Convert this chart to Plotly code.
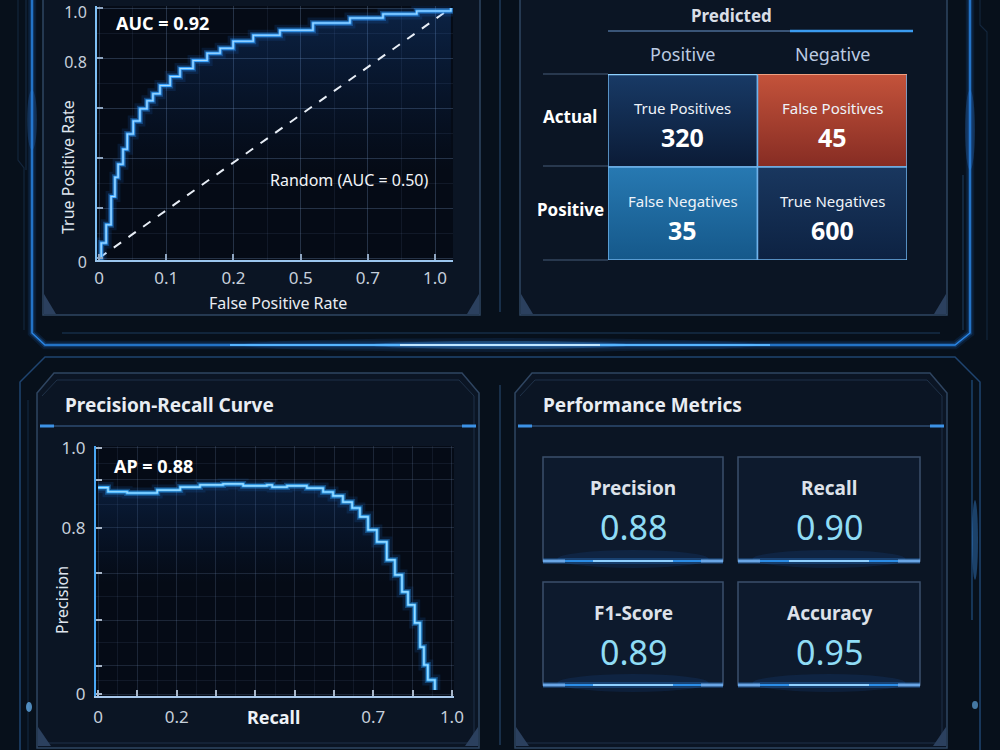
import plotly.graph_objects as go

W, H = 1000, 750
FONT = "Noto Sans"

# ---------------- data ----------------
roc_fpr = [0, 0.006, 0.02, 0.034, 0.045, 0.054, 0.068, 0.08, 0.097, 0.116, 0.136, 0.153, 0.173,
           0.202, 0.23, 0.267, 0.307, 0.344, 0.381, 0.438, 0.514, 0.608, 0.713, 0.807, 0.903, 1.0]
roc_tpr = [0, 0.06, 0.133, 0.246, 0.323, 0.375, 0.435, 0.496, 0.548, 0.597, 0.629, 0.657, 0.69,
           0.726, 0.758, 0.79, 0.819, 0.839, 0.867, 0.891, 0.911, 0.94, 0.96, 0.976, 0.988, 1.0]
random_x = [0, 1]
random_y = [0, 1]
roc_xtick_pos = [0, 0.191, 0.382, 0.573, 0.764, 0.955]
roc_xtick_text = ["0", "0.1", "0.2", "0.5", "0.7", "1.0"]
roc_ytick_pos = [0, 0.2, 0.4, 0.6, 0.8, 1.0]
roc_ytick_text = ["0", "", "", "", "0.8", "1.0"]
auc_text = "AUC = 0.92"
random_text = "Random (AUC = 0.50)"

pr_recall = [0, 0.028, 0.082, 0.138, 0.167, 0.232, 0.288, 0.353, 0.41, 0.477, 0.492, 0.534, 0.59,
             0.636, 0.664, 0.692, 0.718, 0.74, 0.763, 0.788, 0.816, 0.839, 0.859, 0.876, 0.895,
             0.91, 0.921, 0.932, 0.952]
pr_precision = [0.839, 0.822, 0.817, 0.817, 0.829, 0.841, 0.85, 0.854, 0.846, 0.85, 0.841, 0.846,
                0.837, 0.821, 0.805, 0.78, 0.756, 0.72, 0.667, 0.618, 0.545, 0.484, 0.415, 0.362,
                0.289, 0.191, 0.118, 0.057, 0.016]
pr_xtick_pos = [0, 0.111, 0.222, 0.333, 0.444, 0.556, 0.667, 0.778, 0.889, 1.0]
pr_xtick_text = ["0", "", "0.2", "", "", "", "", "0.7", "", "1.0"]
pr_xminor_pos = [0.056, 0.167, 0.278, 0.389, 0.5, 0.611, 0.722, 0.833, 0.944]
pr_ytick_pos = [0, 0.114, 0.30, 0.49, 0.675, 0.87, 1.0]
pr_ytick_text = ["0", "", "", "", "0.8", "", "1.0"]
pr_yminor_pos = [0.057, 0.21, 0.395, 0.58, 0.77, 0.935]
ap_text = "AP = 0.88"

cm_cols = ["Positive", "Negative"]
cm_rows = ["Actual", "Positive"]
cm_names = [["True Positives", "False Positives"], ["False Negatives", "True Negatives"]]
cm_values = [[320, 45], [35, 600]]
cm_top_colors = [["#183a66", "#c4533b"], ["#2779b2", "#19375f"]]
cm_bot_colors = [["#0b1b36", "#862c23"], ["#15588a", "#0d2242"]]

metric_names = ["Precision", "Recall", "F1-Score", "Accuracy"]
metric_values = [0.88, 0.90, 0.89, 0.95]

# ---------------- helpers ----------------
shapes = []


def P(x, y):
    return f"{x / W:.5f},{1 - y / H:.5f}"


def path(pts, color, width=1.0, fill=None, closed=False):
    d = "M " + " L ".join(P(x, y) for x, y in pts) + (" Z" if closed else "")
    shapes.append(dict(type="path", path=d, xref="paper", yref="paper", layer="below",
                       line=dict(color=color, width=width),
                       fillcolor=fill if fill else "rgba(0,0,0,0)"))


def rect(x0, y0, x1, y1, fill, color="rgba(0,0,0,0)", width=0):
    shapes.append(dict(type="rect", xref="paper", yref="paper", layer="below",
                       x0=x0 / W, x1=x1 / W, y0=1 - y1 / H, y1=1 - y0 / H,
                       fillcolor=fill, line=dict(color=color, width=width)))


def ellipse(cx, cy, rx, ry, fill):
    shapes.append(dict(type="circle", xref="paper", yref="paper", layer="below",
                       x0=(cx - rx) / W, x1=(cx + rx) / W, y0=1 - (cy + ry) / H, y1=1 - (cy - ry) / H,
                       fillcolor=fill, line=dict(width=0)))


def glow(pts, core, rgb="40,140,255", width=1.5):
    path(pts, f"rgba({rgb},0.10)", width + 7)
    path(pts, f"rgba({rgb},0.25)", width + 3)
    path(pts, core, width)


# ---------------- background decoration ----------------
path([(18, 0), (18, 160), (24, 168), (24, 330)], "#13263d", 1.2)
path([(26, 0), (26, 170)], "#172d48", 1)
path([(980, 0), (980, 25), (987, 32), (987, 340)], "#13263d", 1.2)
path([(963, 175), (963, 330)], "#1c3756", 1.2)
ellipse(32, 120, 5, 30, "rgba(60,150,255,0.18)")
ellipse(970, 130, 5, 40, "rgba(60,150,255,0.22)")

glow([(32, 0), (32, 333), (45, 345), (955, 345), (970, 333), (970, 0)], "#2a86e6")
path([(62, 333), (940, 333)], "#1d3a5c", 1.2)
ellipse(500, 345, 260, 7, "rgba(50,140,255,0.10)")
ellipse(500, 345, 130, 4, "rgba(80,170,255,0.25)")
path([(230, 345), (770, 345)], "#55b4ff", 2)
path([(400, 345), (600, 345)], "#bfe6ff", 2)

path([(20, 750), (20, 382), (45, 357), (955, 357), (980, 382), (980, 750)], "#1f4470", 1.5)
path([(28, 750), (28, 400)], "#142a44", 1)
path([(972, 380), (972, 620)], "#1e4a78", 1.3)
ellipse(975, 540, 3, 40, "rgba(70,160,255,0.35)")
ellipse(29, 707, 3, 5, "rgba(110,190,255,0.7)")
ellipse(975, 705, 3, 4, "rgba(110,190,255,0.6)")

path([(500, 0), (500, 312)], "#1f3a5a", 1.5)
path([(500, 385), (500, 745)], "#1f3a5a", 1.5)

# ---------------- panels ----------------
PANEL = "#0b1524"
EDGE = "#2f4561"
ACC = "#2b405e"
rect(43, -5, 480, 315, PANEL, EDGE, 1.5)
path([(44, 294), (44, 314), (56, 314)], ACC, 0, fill=ACC, closed=True)
path([(479, 294), (479, 314), (467, 314)], ACC, 0, fill=ACC, closed=True)
rect(97, 6, 453, 260, "#050b16")

rect(520, -5, 947, 315, PANEL, EDGE, 1.5)
path([(521, 294), (521, 314), (533, 314)], ACC, 0, fill=ACC, closed=True)
path([(946, 294), (946, 314), (934, 314)], ACC, 0, fill=ACC, closed=True)


def bottom_panel(x0, x1):
    path([(x0, 393), (x0 + 17, 373), (x1 - 17, 373), (x1, 393), (x1, 748), (x0, 748)],
         EDGE, 1.5, fill=PANEL, closed=True)
    path([(x0 + 5, 396), (x0 + 20, 380), (x1 - 20, 380), (x1 - 5, 396), (x1 - 5, 743), (x0 + 5, 743)],
         "#1f3148", 1)
    path([(x0 + 3, 426), (x1 - 3, 426)], "#2e4b70", 1.5)
    path([(x0 + 3, 426), (x0 + 17, 426)], "#3d92e6", 3)
    path([(x1 - 17, 426), (x1 - 3, 426)], "#3d92e6", 3)
    path([(x0 + 1, 727), (x0 + 1, 746), (x0 + 14, 746)], ACC, 0, fill=ACC, closed=True)
    path([(x1 - 1, 727), (x1 - 1, 746), (x1 - 14, 746)], ACC, 0, fill=ACC, closed=True)


bottom_panel(37, 479)
bottom_panel(515, 947)
rect(96, 446, 454, 696, "#050b16")

path([(608, 31), (913, 31)], "#3a5578", 2)
path([(790, 31), (913, 31)], "#3b9bf0", 2.5)
for yy in (74, 166, 260):
    path([(543, yy), (608, yy)], "#33455d", 1.5)

card_x = [(543, 723), (738, 920)]
card_y = [(457, 561), (582, 685)]
for r in range(2):
    for c in range(2):
        x0, x1 = card_x[c]
        y0, y1 = card_y[r]
        rect(x0, y0, x1, y1, "#0d1a2d", "#3b4f6b", 1.5)
        ellipse((x0 + x1) / 2, y1 - 2, (x1 - x0) * 0.42, 9, "rgba(40,130,255,0.10)")
        path([(x0, y1), (x1, y1)], "rgba(50,150,255,0.25)", 6)
        path([(x0, y1), (x1, y1)], "#2c8de6", 2)
        path([((x0 + x1) / 2 - 40, y1), ((x0 + x1) / 2 + 40, y1)], "#8fd0ff", 2)
        path([(x0, y1), (x0 + 22, y1)], "#6aa6e6", 3)
        path([(x1 - 22, y1), (x1, y1)], "#6aa6e6", 3)

# ---------------- traces ----------------
fig = go.Figure()

fig.add_trace(go.Scatter(x=roc_fpr, y=roc_tpr, mode="lines", line=dict(width=0, shape="hv"),
                         fill="tozeroy",
                         fillgradient=dict(type="vertical",
                                           colorscale=[[0, "rgba(20,90,200,0)"], [1, "rgba(40,130,255,0.20)"]],
                                           start=0.35, stop=1.0),
                         xaxis="x", yaxis="y", hoverinfo="skip"))
fig.add_trace(go.Scatter(x=random_x, y=random_y, mode="lines",
                         line=dict(color="#e8eef6", width=2, dash="dash"),
                         xaxis="x", yaxis="y", hoverinfo="skip"))
for wdt, col in [(11, "rgba(30,130,255,0.12)"), (6, "rgba(40,150,255,0.35)"), (3, "#3ea6ff"),
                 (1.2, "#a8dcff")]:
    fig.add_trace(go.Scatter(x=roc_fpr, y=roc_tpr, mode="lines", line=dict(color=col, width=wdt, shape="hv"),
                             xaxis="x", yaxis="y", hoverinfo="skip"))

fig.add_trace(go.Scatter(x=pr_recall, y=pr_precision, mode="lines", line=dict(width=0, shape="hv"),
                         fill="tozeroy",
                         fillgradient=dict(type="vertical",
                                           colorscale=[[0, "rgba(20,90,200,0)"], [1, "rgba(40,130,255,0.16)"]],
                                           start=0.45, stop=0.86),
                         xaxis="x2", yaxis="y2", hoverinfo="skip"))
for wdt, col in [(11, "rgba(30,140,255,0.12)"), (6, "rgba(40,160,255,0.35)"), (3, "#3eb0ff"),
                 (1.2, "#a8e2ff")]:
    fig.add_trace(go.Scatter(x=pr_recall, y=pr_precision, mode="lines", line=dict(color=col, width=wdt, shape="hv"),
                             xaxis="x2", yaxis="y2", hoverinfo="skip"))

fig.add_trace(go.Scatter(x=[0, 2, 2, 0, 0], y=[0, 0, 2, 2, 0], mode="lines",
                         line=dict(color="rgba(70,160,255,0.30)", width=7),
                         xaxis="x3", yaxis="y3", hoverinfo="skip"))
for r in range(2):
    for c in range(2):
        fig.add_trace(go.Scatter(
            x=[c, c + 1, c + 1, c, c], y=[r, r, r + 1, r + 1, r], mode="lines", fill="toself",
            fillgradient=dict(type="vertical",
                              colorscale=[[0, cm_top_colors[r][c]], [1, cm_bot_colors[r][c]]],
                              start=r, stop=r + 1),
            line=dict(color="#6fb2ea", width=1.5), xaxis="x3", yaxis="y3", hoverinfo="skip"))
fig.add_trace(go.Scatter(x=[0, 1], y=[0, 0], mode="lines", line=dict(color="#8fd2ff", width=2.5),
                         xaxis="x3", yaxis="y3", hoverinfo="skip"))
fig.add_trace(go.Scatter(x=[1, 2], y=[0, 0], mode="lines", line=dict(color="#f0a080", width=2),
                         xaxis="x3", yaxis="y3", hoverinfo="skip"))

# ---------------- annotations ----------------
ann = []


def text(x, y, s, size, color="#ffffff", bold=False, xanchor="center", angle=0, xref="paper", yref="paper"):
    xx = x / W if xref == "paper" else x
    yy = 1 - y / H if yref == "paper" else y
    ann.append(dict(x=xx, y=yy, xref=xref, yref=yref, text=s, showarrow=False, xanchor=xanchor,
                    yanchor="middle", textangle=angle,
                    font=dict(family=FONT, size=size, color=color, weight="bold" if bold else "normal")))


text(114, 23, auc_text, 18, "#ffffff", bold=True, xanchor="left")
text(268, 180, random_text, 16, "#f2f5f9", xanchor="left")
text(278, 303, "False Positive Rate", 16, "#e8ecf2")
text(68, 167, "True Positive Rate", 16, "#dfe5ee", angle=-90)

text(731, 15, "Predicted", 17, "#d9dee6", bold=True)
for c, name in enumerate(cm_cols):
    text(608 + (c + 0.5) * 149.5, 54, name, 18, "#bccbe2")
for r, name in enumerate(cm_rows):
    text(570 / W, r + 0.46, name, 17, "#ffffff", bold=True, xref="paper", yref="y3")
    ann[-1]["x"] = 570 / W
for r in range(2):
    for c in range(2):
        text(c + 0.5, r + 0.37, cm_names[r][c], 15, "#eef3f9", xref="x3", yref="y3")
        text(c + 0.5, r + 0.68, f"{cm_values[r][c]}", 25, "#ffffff", bold=True, xref="x3", yref="y3")

text(63, 405, "Precision-Recall Curve", 19, "#e9edf3", bold=True, xanchor="left")
text(112, 466, ap_text, 18, "#ffffff", bold=True, xanchor="left")
text(273, 717, "Recall", 18, "#eef2f7", bold=True)
text(62, 600, "Precision", 16, "#dfe5ee", angle=-90)

text(541, 405, "Performance Metrics", 19, "#e9edf3", bold=True, xanchor="left")
for i, (name, val) in enumerate(zip(metric_names, metric_values)):
    r, c = divmod(i, 2)
    x0, x1 = card_x[c]
    y0, y1 = card_y[r]
    text((x0 + x1) / 2, y0 + 31, name, 19, "#dde2ea", bold=True)
    text((x0 + x1) / 2, y0 + 70, f"{val:.2f}", 34, "#8fdcf5")

# ---------------- layout ----------------
GRID = "rgba(120,150,190,0.20)"
GRID2 = "rgba(120,150,190,0.11)"
TICKF = dict(family=FONT, size=17, color="#c6cfdb")

fig.update_layout(
    width=W, height=H, margin=dict(l=0, r=0, t=0, b=0, autoexpand=False),
    paper_bgcolor="#07101b", plot_bgcolor="rgba(0,0,0,0)",
    showlegend=False, hovermode=False, shapes=shapes, annotations=ann,
    font=dict(family=FONT, color="#dfe5ee"),
    xaxis=dict(domain=[97 / W, 453 / W], range=[-0.006, 1.006], tickmode="array",
               tickvals=roc_xtick_pos, ticktext=roc_xtick_text, ticks="inside", ticklen=6,
               tickcolor="#8fa6c2", tickwidth=1.5, showline=True, linecolor="#9cc6ee", linewidth=2,
               showgrid=True, gridcolor=GRID, zeroline=False, tickfont=TICKF, ticklabelstandoff=2,
               ticklabeloverflow="allow",
               minor=dict(tickmode="linear", tick0=0, dtick=0.0955, showgrid=True, gridcolor=GRID2,
                          ticks=""), anchor="y", fixedrange=True, automargin=False),
    yaxis=dict(domain=[1 - 260 / H, 1 - 6 / H], range=[-0.008, 1.008], tickmode="array",
               tickvals=roc_ytick_pos, ticktext=roc_ytick_text, ticks="inside", ticklen=6,
               tickcolor="#8fa6c2", tickwidth=1.5, showline=True, linecolor="#7fc0f5", linewidth=2,
               showgrid=True, gridcolor=GRID, zeroline=False, tickfont=dict(family=FONT, size=16, color="#c6cfdb"),
               ticklabelstandoff=5, ticklabelshift=4, ticklabeloverflow="allow",
               minor=dict(tickmode="linear", tick0=0, dtick=0.1, showgrid=True, gridcolor=GRID2, ticks=""),
               anchor="x", fixedrange=True, automargin=False),
    xaxis2=dict(domain=[96 / W, 454 / W], range=[-0.006, 1.006], tickmode="array",
                tickvals=pr_xtick_pos, ticktext=pr_xtick_text, ticks="inside", ticklen=6,
                tickcolor="#a8b6c8", tickwidth=1.5, showline=True, linecolor="#a9c9ec", linewidth=2,
                showgrid=True, gridcolor=GRID, zeroline=False, tickfont=TICKF, ticklabelstandoff=5,
                ticklabeloverflow="allow",
                minor=dict(tickmode="array", tickvals=pr_xminor_pos, showgrid=True, gridcolor=GRID2, ticks=""),
                anchor="y2", fixedrange=True, automargin=False),
    yaxis2=dict(domain=[1 - 696 / H, 1 - 446 / H], range=[-0.008, 1.008], tickmode="array",
                tickvals=pr_ytick_pos, ticktext=pr_ytick_text, ticks="inside", ticklen=6,
                tickcolor="#a8b6c8", tickwidth=1.5, showline=True, linecolor="#4aa8f5", linewidth=2,
                showgrid=True, gridcolor=GRID, zeroline=False, tickfont=TICKF, ticklabelstandoff=5,
                ticklabeloverflow="allow",
                minor=dict(tickmode="array", tickvals=pr_yminor_pos, showgrid=True, gridcolor=GRID2, ticks=""),
                anchor="x2", fixedrange=True, automargin=False),
    xaxis3=dict(domain=[608 / W, 907 / W], range=[0, 2], visible=False, anchor="y3", fixedrange=True),
    yaxis3=dict(domain=[1 - 260 / H, 1 - 74 / H], range=[2, 0], visible=False, anchor="x3", fixedrange=True),
)

fig.write_html("out.html", config={"displayModeBar": False})
